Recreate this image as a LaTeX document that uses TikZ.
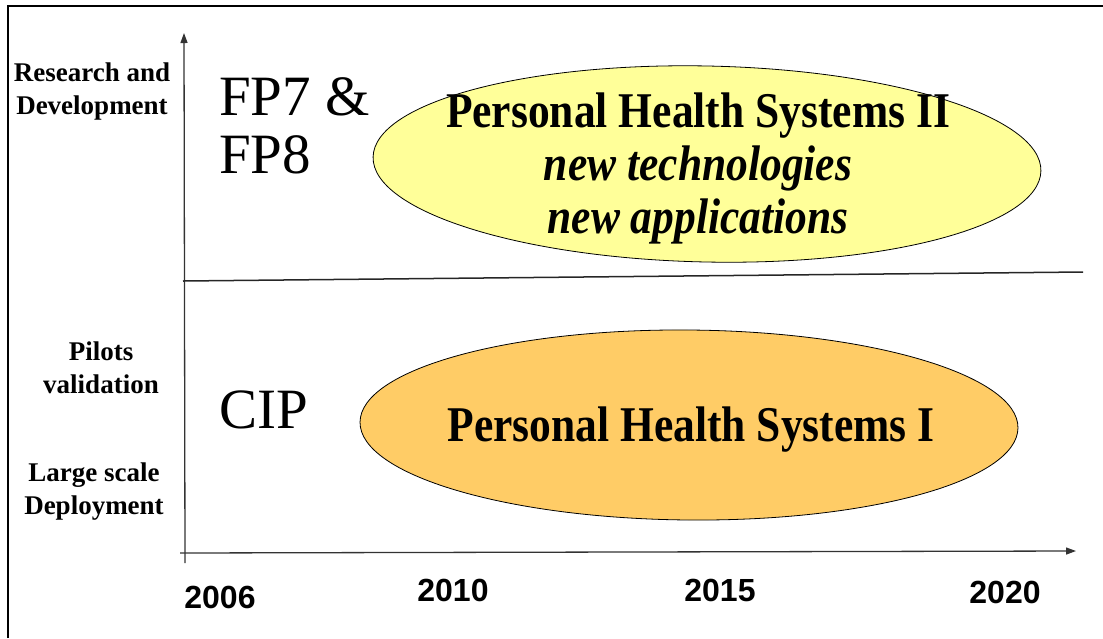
\documentclass[tikz,border=0pt]{standalone}
\usepackage{fontspec}
\setmainfont{Liberation Serif}
\newfontfamily\yearfont{Liberation Sans}
\usetikzlibrary{arrows.meta,shapes.geometric}

\definecolor{phsyellow}{HTML}{FFFF99}
\definecolor{phsorange}{HTML}{FFCC66}

% tall, narrow lettering inside the ellipses
\newcommand{\narrowline}[1]{\scalebox{0.87}[1]{#1}}

\begin{document}
\begin{tikzpicture}[x=1pt,y=-1pt,
  axis/.style={line width=1.3pt,black!80,-{Triangle[length=10pt,width=7pt]}},
  stage/.style={font=\fontsize{27}{33}\selectfont\bfseries,align=center,inner sep=0pt},
  prog/.style={font=\fontsize{57}{58}\selectfont,align=left,anchor=west,inner sep=0pt},
  phs/.style={ellipse,draw,line width=0.8pt,inner sep=0pt},
  phstext/.style={font=\fontsize{50}{53}\selectfont\bfseries,align=center,inner sep=0pt},
  year/.style={font=\yearfont\fontsize{32}{32}\selectfont\bfseries,inner sep=0pt}]
\useasboundingbox (0,0) rectangle (1103,638);

% frame (top and left only)
\draw[line width=2pt] (8,638) -- (8,6) -- (1103,6);

% time axis and level axis
\coordinate (ybot) at (185,563);
\coordinate (ytop) at (184,33);
\coordinate (xleft) at (180,553);
\coordinate (xright) at (1076,551);
\draw[axis] (ybot) -- (ytop);
\draw[axis] (xleft) -- (xright);

% split between the two levels
\coordinate (splitl) at (183,281);
\coordinate (splitr) at (1083,272);
\draw[line width=1.5pt,black!85] (splitl) -- (splitr);

% levels
\node[stage] (rnd) at (92,92) {Research and\\Development};
\node[stage] (pilots) at (101,368) {Pilots\\validation};
\node[stage] (deploy) at (94,492) {Large scale\\Deployment};

% programmes
\node[prog] (fp) at (219,126) {FP7 \&\\FP8};
\node[prog] (cip) at (219,410) {CIP};

% PHS phases
\node[phs,fill=phsyellow,rotate=-1.2,minimum width=668pt,minimum height=196pt] (phs2) at (707,164) {};
\node[phstext] (phs2txt) at (698,168) {\narrowline{Personal Health Systems II}\\\narrowline{\textit{new technologies}}\\\narrowline{\textit{new applications}}};

\node[phs,fill=phsorange,rotate=-0.5,minimum width=658pt,minimum height=190pt] (phs1) at (689,425) {};
\node[phstext] (phs1txt) at (691,430) {\narrowline{Personal Health Systems I}};

% years
\node[year] (y2006) at (220,597) {2006};
\node[year] (y2010) at (453,590) {2010};
\node[year] (y2015) at (720,590) {2015};
\node[year] (y2020) at (1005,592) {2020};
\end{tikzpicture}
\end{document}
